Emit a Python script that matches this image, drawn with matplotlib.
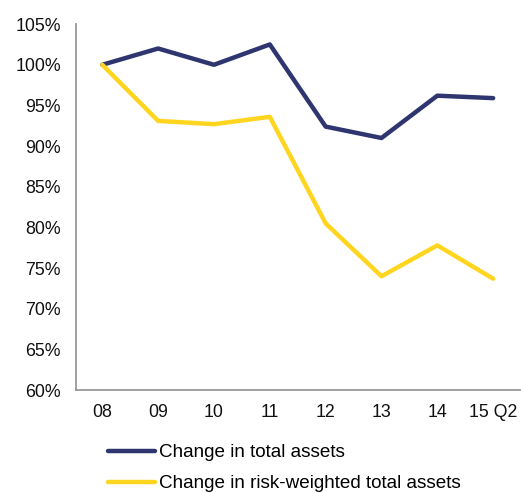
import matplotlib.pyplot as plt
from matplotlib.ticker import FuncFormatter

plt.rcParams['font.family'] = ['Liberation Sans', 'DejaVu Sans']

periods = ['08', '09', '10', '11', '12', '13', '14', '15 Q2']
total_assets = [100.0, 102.0, 100.0, 102.5, 92.4, 91.0, 96.2, 95.9]
risk_weighted = [100.0, 93.1, 92.7, 93.6, 80.5, 74.0, 77.8, 73.7]

navy = '#2e356f'
yellow = '#ffd520'

fig = plt.figure(figsize=(5.21, 4.92), dpi=100)
ax = fig.add_axes([0.146, 0.207, 0.852, 0.744])

x = range(len(periods))
ax.plot(x, total_assets, color=navy, lw=3.2, label='Change in total assets', solid_capstyle='round')
ax.plot(x, risk_weighted, color=yellow, lw=3.2, label='Change in risk-weighted total assets', solid_capstyle='round')

ax.set_ylim(60, 105)
ax.set_xlim(-0.47, 7.48)
ax.set_yticks(range(60, 106, 5))
ax.yaxis.set_major_formatter(FuncFormatter(lambda v, p: f'{v:.0f}%'))
ax.set_xticks(list(x))
ax.set_xticklabels(periods)
ax.tick_params(axis='both', length=0, labelsize=12.8, colors='#111111')
ax.tick_params(axis='y', pad=11)
ax.tick_params(axis='x', pad=10)

for s in ['top', 'right']:
    ax.spines[s].set_visible(False)
for s in ['left', 'bottom']:
    ax.spines[s].set_color('#999999')
    ax.spines[s].set_linewidth(1.3)

fig.legend(loc='upper left', bbox_to_anchor=(0.207, 0.097), frameon=False,
           fontsize=13.6, handlelength=2.5, handletextpad=0.2, labelspacing=0.72,
           borderaxespad=0, borderpad=0)

fig.savefig('out.png', dpi=100)
